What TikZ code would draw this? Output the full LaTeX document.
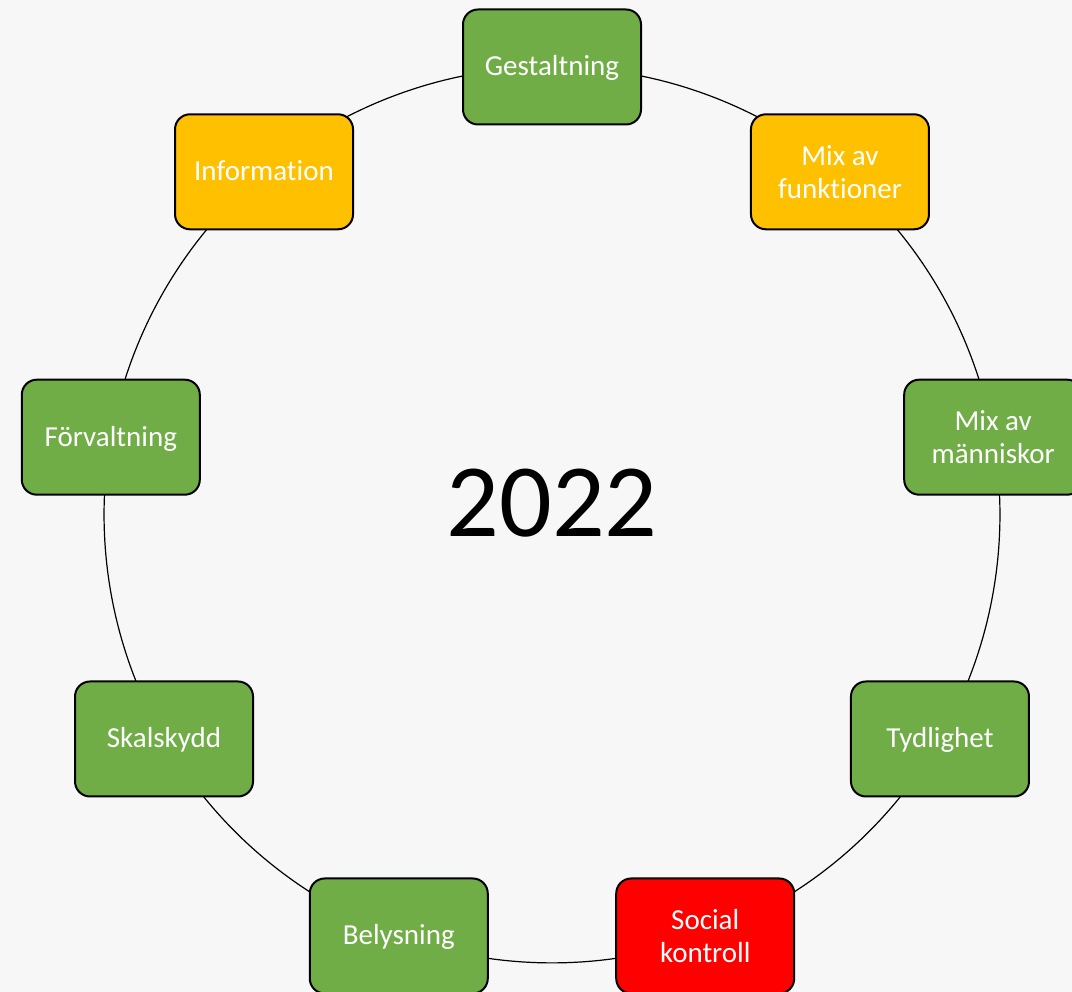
\documentclass[tikz,border=0pt]{standalone}
\usepackage{fontspec}
\setmainfont{Carlito}[Ligatures=NoCommon]
\usetikzlibrary{backgrounds}
\definecolor{bg}{HTML}{F7F7F7}
\definecolor{grn}{HTML}{70AD47}
\definecolor{org}{HTML}{FFC000}
\definecolor{rd}{HTML}{FF0000}
\begin{document}
\begin{tikzpicture}[x=1pt,y=1pt,
  box/.style={draw=black, line width=2pt, rounded corners=15pt, minimum width=178pt, minimum height=115pt,
    text=white, font=\fontsize{29}{33}\selectfont, align=center, inner sep=0pt},
  one/.style={text height=20pt, text depth=2pt},
  ring/.style={line width=1.2pt, bend left=20, looseness=0.878}]
\useasboundingbox (0,0) rectangle (1072,992);
\clip (0,0) rectangle (1072,992);
\coordinate (c) at (552,477);
\node[box, one, fill=grn] (n1) at ([shift={(90:448)}]c) {Gestaltning};
\node[box, fill=org] (n2) at ([shift={(50:448)}]c) {Mix av\\funktioner};
\node[box, fill=grn] (n3) at ([shift={(10:448)}]c) {Mix av\\människor};
\node[box, one, fill=grn] (n4) at ([shift={(-30:448)}]c) {Tydlighet};
\node[box, fill=rd] (n5) at ([shift={(-70:448)}]c) {Social\\kontroll};
\node[box, one, fill=grn] (n6) at ([shift={(-110:448)}]c) {Belysning};
\node[box, one, fill=grn] (n7) at ([shift={(-150:448)}]c) {Skalskydd};
\node[box, one, fill=grn] (n8) at ([shift={(170:448)}]c) {Förvaltning};
\node[box, one, fill=org] (n9) at ([shift={(130:448)}]c) {Information};
\node[font=\fontsize{104}{120}\selectfont, anchor=base, inner sep=0pt] (yr) at (552,455) {2022};
\begin{pgfonlayer}{background}
\fill[bg] (0,0) rectangle (1072,992);
\draw[ring] (n1.center) to (n2.center);
\draw[ring] (n2.center) to (n3.center);
\draw[ring] (n3.center) to (n4.center);
\draw[ring] (n4.center) to (n5.center);
\draw[ring] (n5.center) to (n6.center);
\draw[ring] (n6.center) to (n7.center);
\draw[ring] (n7.center) to (n8.center);
\draw[ring] (n8.center) to (n9.center);
\draw[ring] (n9.center) to (n1.center);
\end{pgfonlayer}
\end{tikzpicture}
\end{document}
